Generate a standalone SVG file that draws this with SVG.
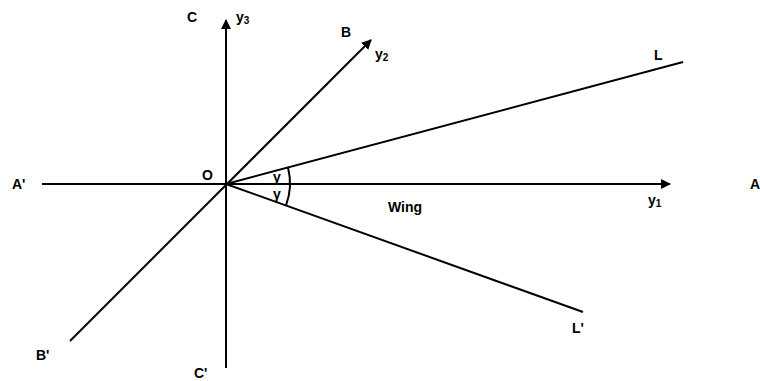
<svg xmlns="http://www.w3.org/2000/svg" width="760" height="381" viewBox="0 0 760 381">
<defs>
<marker id="ah" viewBox="0 0 10 10" refX="9" refY="5" markerWidth="5" markerHeight="5" orient="auto" markerUnits="strokeWidth">
<path d="M0,0 L10,5 L0,10 z" fill="#000"/>
</marker>
</defs>
<style>
.ln{stroke:#000;stroke-width:2;fill:none}
.t{font-family:"Liberation Sans",Arial,sans-serif;font-weight:bold;font-size:14px;fill:#000}
</style>
<rect width="760" height="381" fill="#fff"/>
<g id="connectors">
<line class="ln" x1="42" y1="184" x2="670" y2="184" marker-end="url(#ah)"/>
<line class="ln" x1="226" y1="368" x2="226" y2="20" marker-end="url(#ah)"/>
<line class="ln" x1="70" y1="341" x2="371" y2="40" marker-end="url(#ah)"/>
<line class="ln" x1="226" y1="184" x2="683" y2="62"/>
<line class="ln" x1="226" y1="184" x2="583" y2="312"/>
<path class="ln" d="M288,167.5 A64,64 0 0 1 286,205.5"/>
</g>
<g id="labels">
<text class="t" x="187" y="22">C</text>
<text class="t" x="236" y="22">y<tspan font-size="10" dy="2">3</tspan></text>
<text class="t" x="341" y="37">B</text>
<text class="t" x="375" y="59">y<tspan font-size="10" dy="2">2</tspan></text>
<text class="t" x="12" y="189">A'</text>
<text class="t" x="202" y="180">O</text>
<text class="t" x="273" y="182">γ</text>
<text class="t" x="273" y="199">γ</text>
<text class="t" x="388" y="212">Wing</text>
<text class="t" x="648" y="205">y<tspan font-size="10" dy="2">1</tspan></text>
<text class="t" x="750" y="189">A</text>
<text class="t" x="654" y="60">L</text>
<text class="t" x="572" y="333">L'</text>
<text class="t" x="36" y="360">B'</text>
<text class="t" x="194" y="378">C'</text>
</g>
</svg>
